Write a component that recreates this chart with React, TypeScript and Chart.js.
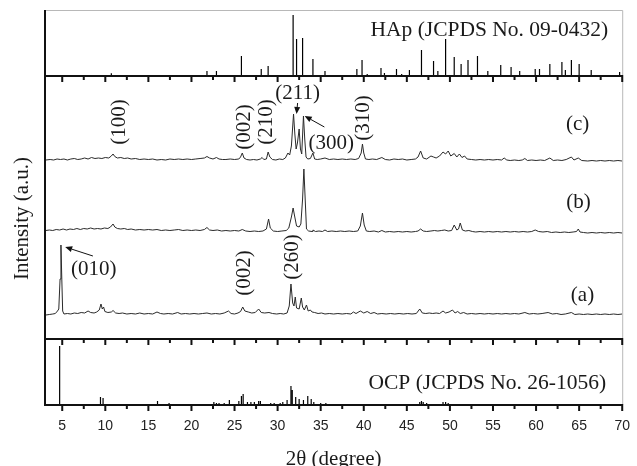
import React, { useEffect, useRef } from 'react';
import { Chart, registerables } from 'chart.js';

Chart.register(...registerables);

// 2θ range
const X_MIN = 3;
const X_MAX = 70;
const X_TICK_STEP = 2.5;

// Reference stick patterns: [2θ, relative intensity]
const hapSticks: number[][] = [
  [10.7, 2.7], [16.9, 1], [18.8, 1], [21.8, 5], [22.9, 5], [25.4, 1], [25.8, 20], [28.1, 7], [28.9, 10],
  [31.8, 61], [32.2, 37], [32.9, 38], [34.1, 17], [35.5, 5], [39.2, 7], [39.8, 16], [40.4, 2], [42.0, 8],
  [42.4, 3], [43.8, 7], [44.4, 2], [45.3, 6], [46.7, 26], [48.1, 15], [48.6, 5], [49.5, 37], [50.5, 19],
  [51.3, 12], [52.1, 16], [53.2, 20], [54.4, 5], [55.9, 11], [57.1, 9], [58.1, 5], [59.9, 7], [60.4, 7],
  [61.6, 12], [63.0, 14], [63.4, 6], [64.1, 16], [65.0, 12], [66.4, 6], [69.7, 4],
];

const ocpSticks: number[][] = [
  [4.7, 59], [9.44, 8], [9.74, 7], [16.06, 4], [17.4, 2], [19.7, 1], [22.6, 3], [22.9, 2], [23.2, 2],
  [23.8, 2], [24.4, 5], [25.5, 4], [25.8, 9], [26.0, 11], [26.5, 3], [26.9, 3], [27.3, 3], [27.8, 4],
  [28.0, 4], [28.5, 1], [29.2, 2], [29.6, 2], [30.3, 2], [30.6, 3], [31.1, 5], [31.55, 19], [31.7, 15],
  [32.1, 8], [32.5, 6], [33.0, 5], [33.5, 9], [33.9, 6], [34.2, 3], [35.0, 2], [35.6, 2], [36.3, 1],
  [38.6, 1], [40.0, 1], [42.5, 1], [45.4, 1], [46.5, 3], [46.7, 4], [46.9, 3], [47.3, 2], [48.0, 1],
  [49.2, 3], [49.5, 3], [49.8, 2], [52.3, 1],
];

// Measured patterns (offset intensity, a.u.): [2θ, intensity]
const patternC: number[][] = [
  [3.1, 179], [3.6, 179.5], [4.0, 179], [4.4, 180], [4.8, 179.5], [5.2, 180], [5.6, 179], [6.0, 180],
  [6.4, 180.5], [6.8, 179.5], [7.2, 180], [7.6, 181], [8.0, 180], [8.4, 181.5], [8.8, 180.5], [9.2, 181],
  [9.6, 180.5], [10.0, 181.5], [10.4, 181], [10.7, 183], [10.9, 185], [11.1, 182.5], [11.4, 181], [11.8, 181.5],
  [12.2, 180.5], [12.6, 181], [13.0, 180], [13.5, 180.5], [14.0, 179.5], [14.5, 180], [15.0, 179.5], [15.5, 180],
  [16.0, 179], [16.5, 179.5], [17.0, 179], [17.5, 180], [18.0, 179.5], [18.5, 180], [19.0, 179.5], [19.5, 180],
  [20.0, 179.5], [20.5, 180], [21.0, 180.5], [21.5, 181], [21.8, 182.5], [22.1, 181], [22.5, 180], [22.9, 181.5],
  [23.2, 180], [23.6, 179.5], [24.0, 179.5], [24.5, 180], [25.0, 179.5], [25.5, 180], [25.7, 182], [25.9, 186],
  [26.1, 181], [26.4, 179.5], [26.8, 179], [27.2, 179.5], [27.6, 179], [28.0, 180], [28.2, 181.5], [28.4, 179.5],
  [28.7, 180], [28.9, 187], [29.1, 182], [29.4, 179.5], [29.8, 179], [30.2, 180], [30.6, 179.5], [30.9, 181],
  [31.2, 186], [31.4, 184], [31.6, 193], [31.85, 225], [32.0, 205], [32.15, 190], [32.3, 196], [32.5, 210],
  [32.65, 190], [32.8, 185], [33.0, 223], [33.15, 200], [33.3, 182], [33.5, 180], [33.8, 180.5], [34.1, 186],
  [34.3, 180], [34.6, 179.5], [35.0, 180], [35.5, 181], [36.0, 179.5], [36.5, 180], [37.0, 179.5], [37.5, 180],
  [38.0, 179.5], [38.5, 180], [39.0, 179.5], [39.4, 180.5], [39.7, 186], [39.85, 195], [40.0, 186], [40.2, 180],
  [40.6, 179.5], [41.0, 180], [41.5, 179.5], [42.1, 181.5], [42.5, 179.5], [43.0, 179], [43.5, 180], [44.0, 179.5],
  [44.5, 180], [45.0, 179], [45.5, 179.5], [46.0, 180], [46.3, 182], [46.6, 188], [46.9, 181], [47.3, 180],
  [47.8, 183], [48.1, 182], [48.4, 181], [48.8, 183], [49.2, 187], [49.5, 185], [49.8, 188], [50.1, 183],
  [50.5, 185.5], [50.8, 182], [51.1, 185], [51.4, 181.5], [51.7, 183], [52.0, 180], [52.5, 179.5], [53.0, 179],
  [53.5, 179.5], [54.0, 179], [54.5, 179.5], [55.0, 179], [55.5, 179.5], [56.0, 179], [56.3, 181], [56.6, 179],
  [57.0, 178.5], [57.5, 179], [58.0, 178.5], [58.4, 179], [58.7, 180.5], [59.0, 178.5], [59.5, 179], [60.0, 178.5],
  [60.5, 179], [61.0, 178.5], [61.6, 181], [62.0, 178.5], [62.5, 179], [63.0, 178.5], [63.5, 179.5], [64.1, 182],
  [64.4, 179], [64.9, 181], [65.3, 178.5], [66.0, 178], [66.5, 178.5], [67.0, 178], [67.5, 178.5], [68.0, 178],
  [68.5, 178.5], [69.0, 178], [69.5, 178.5], [70.0, 178],
];

const patternB: number[][] = [
  [3.1, 108.5], [3.5, 109], [3.9, 108.5], [4.3, 109.5], [4.7, 109], [5.1, 110], [5.5, 109], [5.9, 110],
  [6.3, 109.5], [6.7, 110.5], [7.1, 109.5], [7.5, 110.5], [7.9, 110], [8.3, 111], [8.7, 110], [9.1, 110.5],
  [9.5, 110], [9.9, 111], [10.3, 110.5], [10.6, 112], [10.9, 115], [11.1, 112], [11.4, 110.5], [11.8, 110],
  [12.2, 110.5], [12.6, 109.5], [13.0, 110], [13.5, 109], [14.0, 109.5], [14.5, 109], [15.0, 109.5], [15.5, 109],
  [16.0, 109.5], [16.5, 108.5], [17.0, 109], [17.5, 108.5], [18.0, 109], [18.5, 109.5], [19.0, 108.5], [19.5, 109],
  [20.0, 108.5], [20.5, 109], [21.0, 108.5], [21.5, 109.5], [21.8, 111.5], [22.1, 109], [22.5, 108.5], [23.0, 109],
  [23.5, 108], [24.0, 108.5], [24.5, 108], [25.0, 108.5], [25.5, 108], [25.9, 109.5], [26.3, 108], [26.8, 107.5],
  [27.3, 108], [27.8, 107.5], [28.3, 108], [28.7, 110], [28.95, 120], [29.15, 111], [29.5, 108], [30.0, 107.5],
  [30.5, 108], [31.0, 108.5], [31.3, 111], [31.6, 122], [31.8, 131], [31.95, 124], [32.2, 113], [32.5, 112],
  [32.7, 115], [32.9, 140], [33.05, 170], [33.2, 140], [33.35, 110], [33.6, 108], [34.0, 107.5], [34.1, 109],
  [34.4, 107.5], [34.8, 108], [35.2, 107.5], [35.5, 109], [35.8, 107.5], [36.3, 108], [36.8, 107.5], [37.3, 108],
  [37.8, 107.5], [38.3, 108], [38.8, 107.5], [39.3, 108], [39.6, 113], [39.85, 126], [40.05, 114], [40.3, 108],
  [40.7, 107.5], [41.2, 108], [41.7, 107], [42.1, 108.5], [42.5, 107], [43.0, 107.5], [43.5, 107], [44.0, 107.5],
  [44.5, 107], [45.0, 107.5], [45.5, 107], [46.0, 107.5], [46.3, 108], [46.6, 110], [46.9, 108], [47.3, 107.5],
  [47.8, 108], [48.2, 108.5], [48.6, 108], [49.0, 108.5], [49.4, 109], [49.8, 108], [50.2, 108.5], [50.5, 114],
  [50.8, 109], [51.0, 110], [51.2, 116], [51.45, 109], [51.8, 108], [52.2, 108.5], [52.6, 107.5], [53.0, 107],
  [53.5, 107.5], [54.0, 107], [54.5, 107.5], [55.0, 107], [55.5, 107.5], [56.0, 107], [56.5, 107.5], [57.0, 107],
  [57.5, 107.5], [58.0, 107], [58.5, 107.5], [59.0, 107], [59.5, 107.5], [59.9, 109], [60.3, 107.5], [60.8, 107],
  [61.3, 107.5], [61.8, 106.5], [62.3, 107], [62.8, 106.5], [63.3, 107], [63.8, 106.5], [64.3, 107], [64.7, 107.5],
  [64.9, 110], [65.1, 107], [65.5, 106.5], [66.0, 106], [66.5, 106.5], [67.0, 106], [67.5, 106.5], [68.0, 106],
  [68.5, 106.5], [69.0, 106], [69.5, 106.5], [70.0, 106],
];

const patternA: number[][] = [
  [3.1, 24], [3.5, 24.5], [3.9, 25], [4.2, 25.5], [4.45, 28], [4.6, 30], [4.75, 60], [4.85, 94],
  [4.95, 60], [5.05, 28], [5.2, 25], [5.6, 25.5], [6.0, 25], [6.4, 26], [6.8, 25.5], [7.2, 26.5],
  [7.6, 26], [8.0, 28], [8.3, 26.5], [8.7, 26], [9.0, 27], [9.3, 29], [9.5, 35], [9.65, 30],
  [9.8, 32], [9.95, 27.5], [10.3, 26.5], [10.7, 27], [10.9, 28.5], [11.2, 26], [11.6, 25.5], [12.0, 26],
  [12.5, 25], [13.0, 25.5], [13.5, 25], [14.0, 26], [14.5, 25], [15.0, 25.5], [15.5, 25], [16.0, 27],
  [16.4, 25.5], [16.8, 25], [17.3, 25.5], [17.8, 25], [18.4, 26.5], [18.8, 25], [19.3, 25.5], [19.8, 25],
  [20.3, 25.5], [20.8, 25], [21.3, 25.5], [21.8, 26], [22.3, 25], [22.8, 25.5], [23.3, 25], [23.8, 26],
  [24.3, 28], [24.6, 25.5], [25.0, 25], [25.4, 26], [25.7, 27.5], [25.95, 32], [26.2, 28], [26.6, 27],
  [27.0, 26], [27.4, 26.5], [27.8, 30], [28.1, 26.5], [28.5, 26], [29.0, 26.5], [29.4, 25.5], [29.9, 25],
  [30.3, 25.5], [30.7, 25], [31.1, 26], [31.35, 33], [31.55, 55], [31.75, 36], [31.9, 33], [32.05, 42],
  [32.2, 31], [32.5, 30], [32.75, 41], [32.9, 32], [33.1, 29], [33.35, 34], [33.55, 28], [33.8, 29],
  [34.0, 27], [34.3, 26.5], [34.7, 25.5], [35.1, 26], [35.5, 25], [36.0, 25.5], [36.5, 25], [37.0, 25.5],
  [37.5, 25], [38.0, 25.5], [38.5, 25], [38.8, 27], [39.1, 25.5], [39.6, 28], [40.0, 26], [40.4, 27.5],
  [40.8, 25.5], [41.2, 26.5], [41.6, 25], [42.1, 25.5], [42.6, 25], [43.1, 25.5], [43.6, 25], [44.1, 25.5],
  [44.6, 25], [45.1, 25.5], [45.6, 25], [46.1, 25.5], [46.5, 30], [46.8, 26], [47.2, 25.5], [47.6, 26],
  [48.0, 25.5], [48.4, 26], [48.8, 25.5], [49.2, 28], [49.5, 26], [49.9, 27], [50.3, 29], [50.6, 26],
  [50.9, 27.5], [51.2, 25.5], [51.6, 26.5], [52.0, 25], [52.5, 25.5], [53.0, 25], [53.5, 25.5], [54.0, 25],
  [54.5, 25.5], [55.0, 25], [55.5, 25.5], [56.0, 25], [56.5, 25.5], [57.0, 25], [57.5, 25.5], [58.0, 25],
  [58.7, 26.5], [59.2, 25], [59.7, 25.5], [60.2, 25], [60.7, 25.5], [61.4, 26.5], [61.9, 25], [62.4, 25.5],
  [62.9, 24.5], [63.4, 25], [64.1, 26.5], [64.5, 24.5], [65.0, 25], [65.5, 24.5], [66.0, 25], [66.5, 24.5],
  [67.0, 25], [67.5, 24.5], [68.0, 25], [68.5, 24.5], [69.0, 25], [69.5, 24.5], [70.0, 25],
];

// Annotations in data coordinates of the middle panel: [text, 2θ, intensity, rotated(1)/horizontal(0)]
const peakLabels: [string, number, number, number][] = [
  ['(100)', 11.66, 217, 1],
  ['(002)', 26.12, 212, 1],
  ['(210)', 28.76, 217, 1],
  ['(211)', 32.32, 246, 0],
  ['(300)', 36.22, 196, 0],
  ['(310)', 40.02, 221, 1],
  ['(c)', 64.82, 215, 0],
  ['(b)', 64.93, 137, 0],
  ['(a)', 65.39, 44, 0],
  ['(010)', 8.67, 70, 0],
  ['(002)', 26.12, 66, 1],
  ['(260)', 31.75, 82, 1],
];

// Arrows: [from 2θ, from I, to 2θ, to I]
const peakArrows: number[][] = [
  [32.32, 236, 32.2, 225],
  [35.43, 212, 33.14, 223],
  [8.56, 83, 5.34, 92],
];

const HAP_LABEL = 'HAp (JCPDS No. 09-0432)';
const OCP_LABEL = 'OCP (JCPDS No. 26-1056)';
const HAP_LABEL_POS = [68.37, 46];
const OCP_LABEL_POS = [68.14, 21.5];

const X_TITLE = '2θ (degree)';
const Y_TITLE = 'Intensity (a.u.)';

const SERIF = '"Liberation Serif", "Times New Roman", Times, serif';
const SANS = '"Liberation Sans", Arial, Helvetica, sans-serif';

function sticks(list: number[][]) {
  const out: { x: number; y: number | null }[] = [];
  for (const [x, h] of list) {
    out.push({ x, y: 0 }, { x, y: h }, { x, y: null });
  }
  return out;
}

function pts(list: number[][]) {
  return list.map(([x, y]) => ({ x, y }));
}

const overlayPlugin = {
  id: 'xrdOverlay',
  afterDraw(chart: any) {
    const { ctx, chartArea: a, scales } = chart;
    const xs = scales.x;
    const yH = scales.yHap;
    const yM = scales.yMid;
    const yO = scales.yOcp;
    ctx.save();

    // light frame top/right
    ctx.strokeStyle = '#b8b8b8';
    ctx.lineWidth = 1;
    ctx.beginPath();
    ctx.moveTo(a.left, a.top + 0.5);
    ctx.lineTo(a.right + 0.5, a.top + 0.5);
    ctx.lineTo(a.right + 0.5, a.bottom);
    ctx.stroke();

    // black axes / separators
    ctx.strokeStyle = '#111';
    ctx.lineWidth = 2;
    const seps = [yM.top, yM.bottom, a.bottom];
    ctx.beginPath();
    ctx.moveTo(a.left, a.top);
    ctx.lineTo(a.left, a.bottom + 1);
    for (const y of seps) {
      ctx.moveTo(a.left - 1, y);
      ctx.lineTo(a.right + 1, y);
    }
    // ticks
    for (const t of xs.ticks) {
      const v = t.value;
      if (Math.abs(v / X_TICK_STEP - Math.round(v / X_TICK_STEP)) > 1e-6) continue;
      const px = xs.getPixelForValue(v);
      const len = Math.abs(v / 5 - Math.round(v / 5)) < 1e-6 ? 6 : 4;
      for (const y of seps) {
        ctx.moveTo(px, y);
        ctx.lineTo(px, y + len);
      }
    }
    ctx.stroke();

    // arrows
    ctx.fillStyle = '#111';
    ctx.strokeStyle = '#111';
    ctx.lineWidth = 1;
    for (const [x1, y1, x2, y2] of peakArrows) {
      const p1x = xs.getPixelForValue(x1), p1y = yM.getPixelForValue(y1);
      const p2x = xs.getPixelForValue(x2), p2y = yM.getPixelForValue(y2);
      const ang = Math.atan2(p2y - p1y, p2x - p1x);
      const hl = 7, hw = 3;
      const bx = p2x - hl * Math.cos(ang), by = p2y - hl * Math.sin(ang);
      ctx.beginPath();
      ctx.moveTo(p1x, p1y);
      ctx.lineTo(bx, by);
      ctx.stroke();
      ctx.beginPath();
      ctx.moveTo(p2x, p2y);
      ctx.lineTo(bx + hw * Math.sin(ang), by - hw * Math.cos(ang));
      ctx.lineTo(bx - hw * Math.sin(ang), by + hw * Math.cos(ang));
      ctx.closePath();
      ctx.fill();
    }

    // peak labels
    ctx.fillStyle = '#1a1a1a';
    ctx.font = `21px ${SERIF}`;
    ctx.textAlign = 'center';
    ctx.textBaseline = 'middle';
    for (const [txt, x, y, rot] of peakLabels) {
      const px = xs.getPixelForValue(x), py = yM.getPixelForValue(y);
      ctx.save();
      ctx.translate(px, py);
      if (rot) ctx.rotate(-Math.PI / 2);
      ctx.fillText(txt, 0, 0);
      ctx.restore();
    }

    // reference labels
    ctx.font = `21.5px ${SERIF}`;
    ctx.textAlign = 'right';
    ctx.fillText(HAP_LABEL, xs.getPixelForValue(HAP_LABEL_POS[0]), yH.getPixelForValue(HAP_LABEL_POS[1]));
    ctx.fillText(OCP_LABEL, xs.getPixelForValue(OCP_LABEL_POS[0]), yO.getPixelForValue(OCP_LABEL_POS[1]));

    // axis titles
    ctx.font = `21px ${SERIF}`;
    ctx.textAlign = 'center';
    ctx.fillText(X_TITLE, (a.left + a.right) / 2, a.bottom + 54);
    ctx.save();
    ctx.translate(a.left - 23, (a.top + a.bottom) / 2 + 11);
    ctx.rotate(-Math.PI / 2);
    ctx.fillText(Y_TITLE, 0, 0);
    ctx.restore();

    ctx.restore();
  },
};

export default function App() {
  const ref = useRef<HTMLCanvasElement | null>(null);

  useEffect(() => {
    if (!ref.current) return;
    const lineStyle = { borderColor: '#2a2a2a', borderWidth: 1, pointRadius: 0, tension: 0, fill: false };
    const stickStyle = { borderColor: '#000', borderWidth: 1.2, pointRadius: 0, tension: 0, fill: false, spanGaps: false };
    const chart = new Chart(ref.current, {
      type: 'line',
      data: {
        datasets: [
          { ...stickStyle, label: 'HAp', data: sticks(hapSticks), yAxisID: 'yHap' },
          { ...lineStyle, label: '(c)', data: pts(patternC), yAxisID: 'yMid' },
          { ...lineStyle, label: '(b)', data: pts(patternB), yAxisID: 'yMid' },
          { ...lineStyle, label: '(a)', data: pts(patternA), yAxisID: 'yMid' },
          { ...stickStyle, label: 'OCP', data: sticks(ocpSticks), yAxisID: 'yOcp' },
        ] as any,
      },
      options: {
        animation: false,
        responsive: false,
        events: [],
        layout: { padding: { top: 10, left: 45, right: 9, bottom: 0 } },
        plugins: { legend: { display: false }, tooltip: { enabled: false } },
        scales: {
          x: {
            type: 'linear',
            min: X_MIN,
            max: X_MAX,
            grid: { display: false, drawTicks: true, tickLength: 6 },
            border: { display: false },
            ticks: {
              stepSize: X_TICK_STEP,
              autoSkip: false,
              maxRotation: 0,
              padding: 7,
              color: '#222',
              font: { family: SANS, size: 14 },
              callback: (v: any) => (Math.abs(v / 5 - Math.round(v / 5)) < 1e-6 ? String(v) : ''),
            },
            afterFit: (s: any) => { s.height = 61; },
          },
          yOcp: {
            type: 'linear', position: 'left', stack: 'panels', stackWeight: 66, min: 0, max: 66,
            display: true, grid: { display: false }, border: { display: false }, ticks: { display: false },
            afterFit: (s: any) => { s.width = 0; },
          },
          yMid: {
            type: 'linear', position: 'left', stack: 'panels', stackWeight: 263, min: 0, max: 263,
            display: true, grid: { display: false }, border: { display: false }, ticks: { display: false },
            afterFit: (s: any) => { s.width = 0; },
          },
          yHap: {
            type: 'linear', position: 'left', stack: 'panels', stackWeight: 66, min: 0, max: 66,
            display: true, grid: { display: false }, border: { display: false }, ticks: { display: false },
            afterFit: (s: any) => { s.width = 0; },
          },
        } as any,
      },
      plugins: [overlayPlugin],
    });
    return () => chart.destroy();
  }, []);

  return (
    <div style={{ position: 'fixed', left: 0, top: 0, width: 637, height: 466, background: '#fff' }}>
      <canvas ref={ref} width={637} height={466} />
    </div>
  );
}
